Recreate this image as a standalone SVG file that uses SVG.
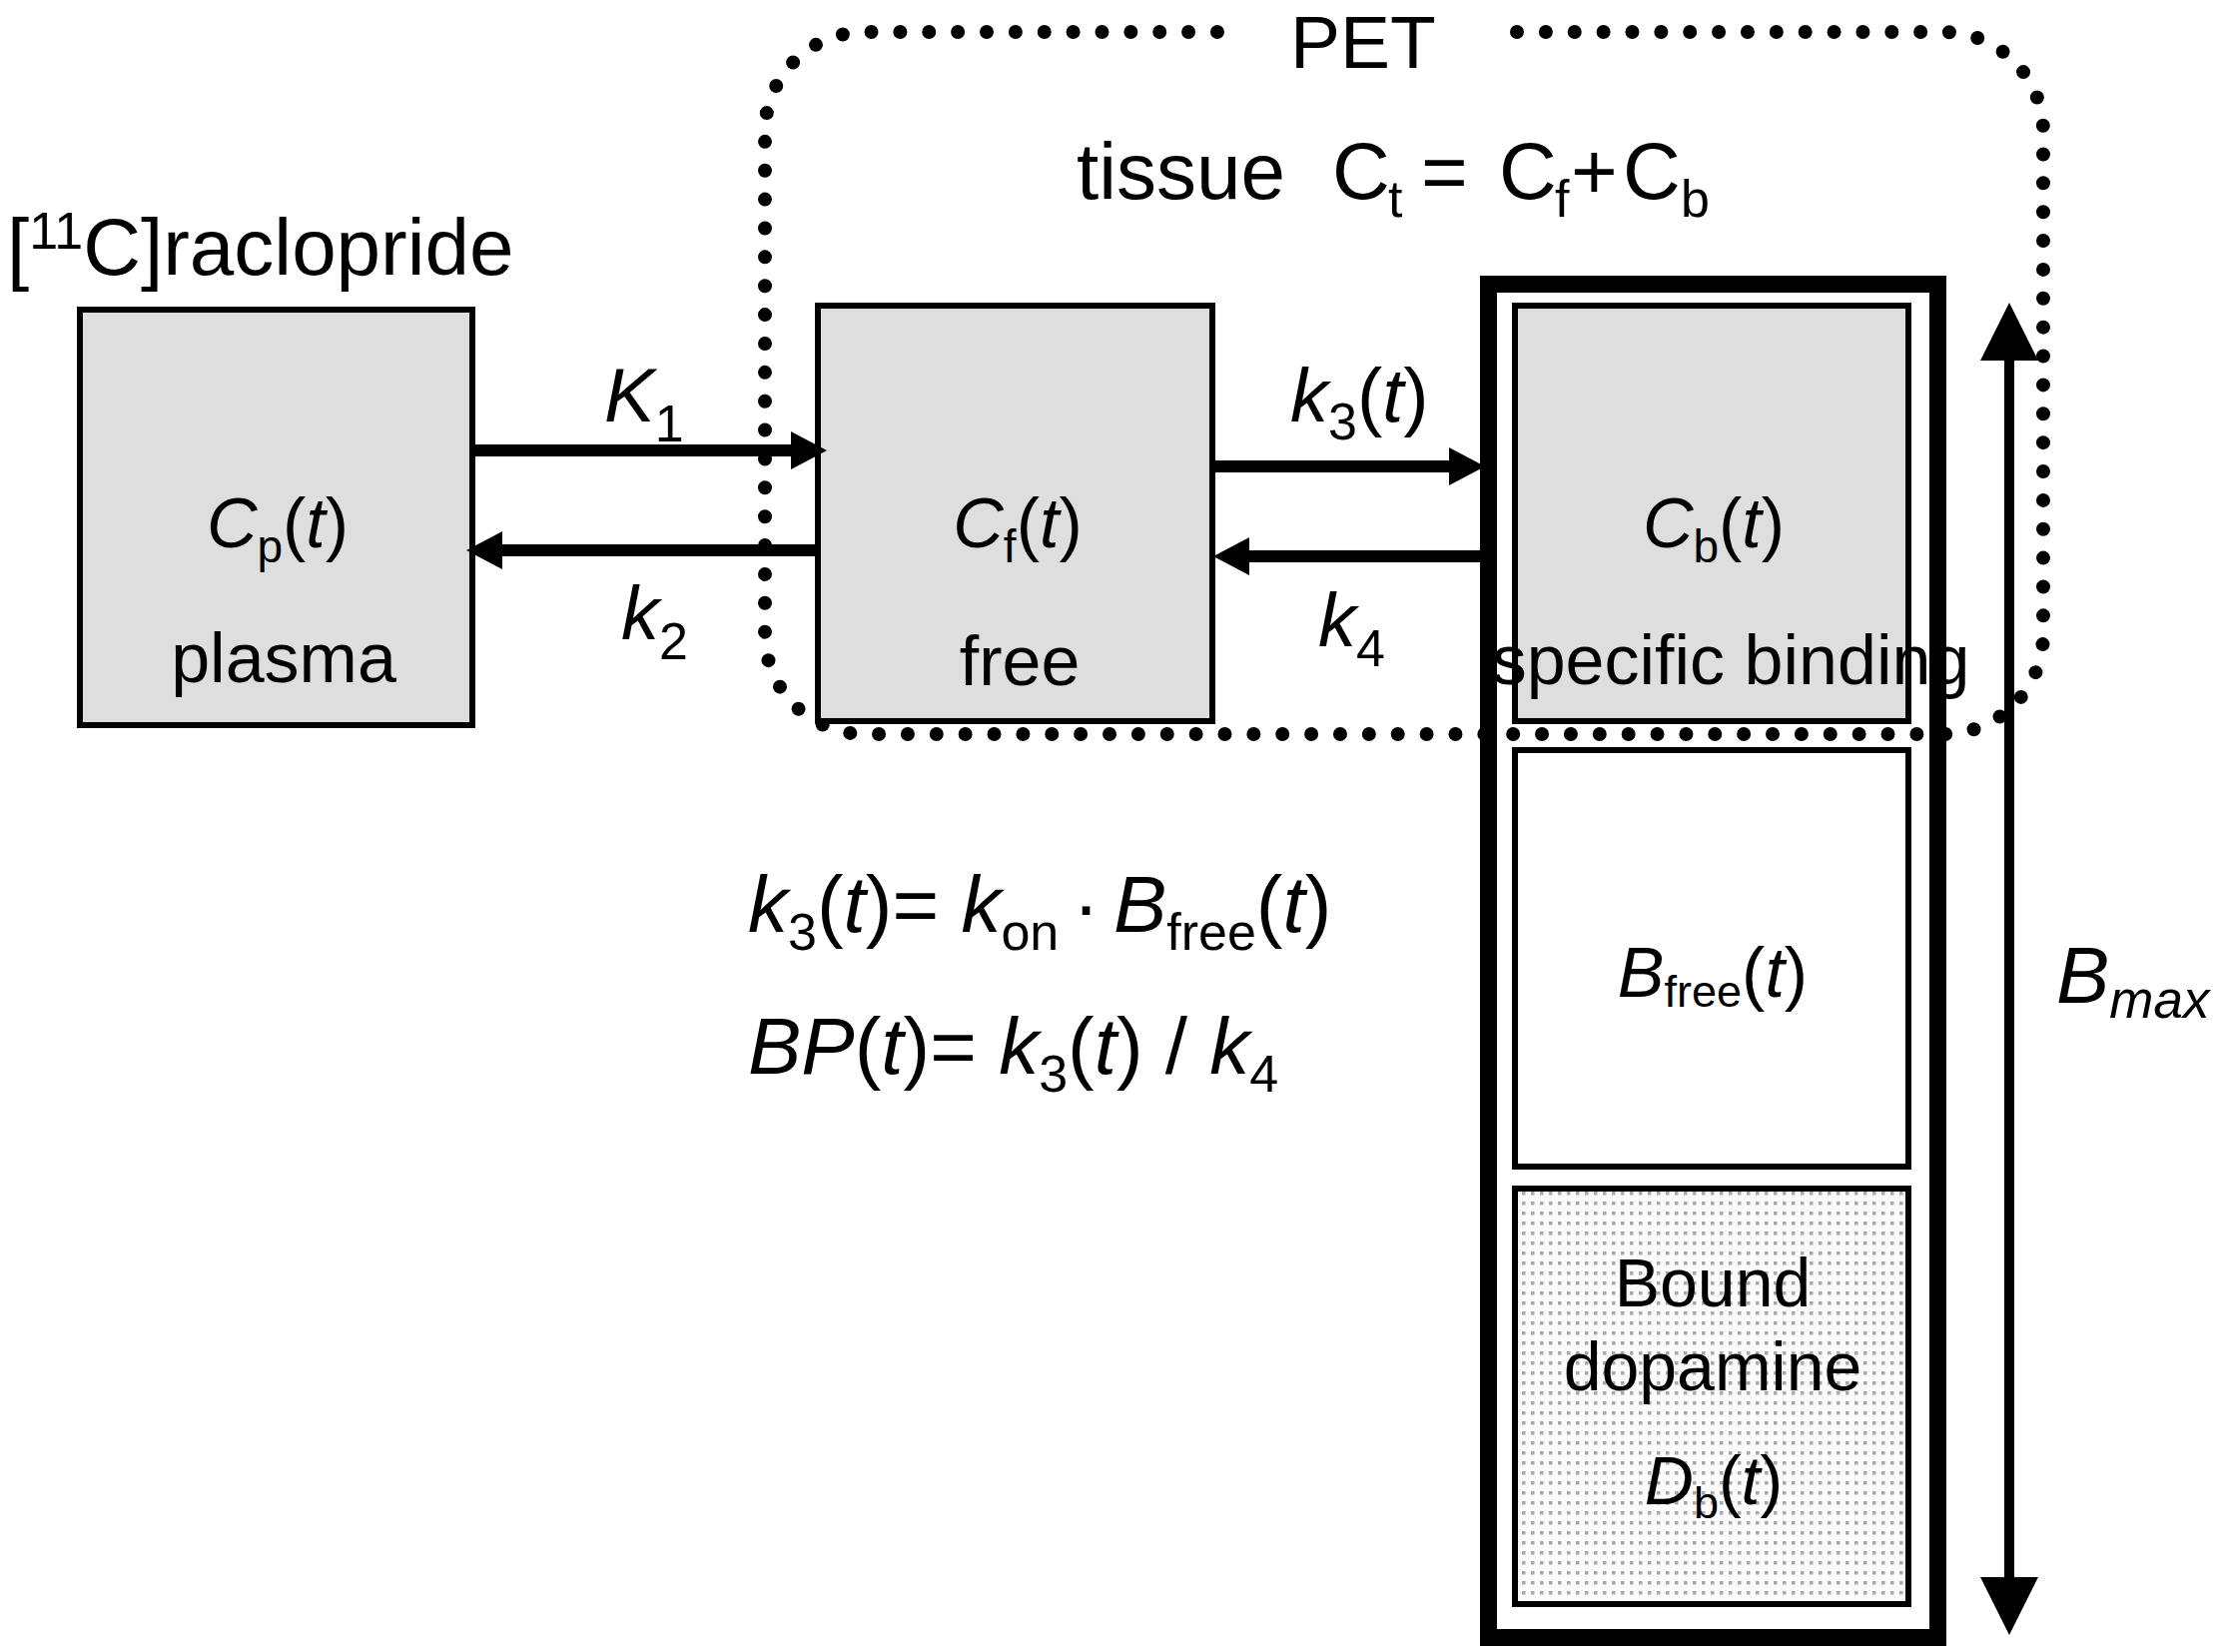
<svg xmlns="http://www.w3.org/2000/svg" width="2217" height="1654" viewBox="0 0 2217 1654">
<style>
text{font-family:"Liberation Sans",Arial,Helvetica,sans-serif;fill:#000}
.box{stroke:#000;stroke-width:6}
.gray{fill:#dedede}
.lbl{font-size:70px}
.top{font-size:80px}
.edge{font-size:76px}
.i{font-style:italic}
.conn{stroke:#000;stroke-width:12;fill:none}
.dots{fill:none;stroke:#000;stroke-width:14;stroke-linecap:round;stroke-dasharray:0 28.87}
</style>
<defs>
<marker id="ah" markerUnits="userSpaceOnUse" markerWidth="38" markerHeight="40" refX="2" refY="19" orient="auto" viewBox="0 0 38 38">
<path d="M0,0 L36,19 L0,38 Z" fill="#000"/>
</marker>
<marker id="ahb" markerUnits="userSpaceOnUse" markerWidth="60" markerHeight="60" refX="2" refY="29" orient="auto-start-reverse" viewBox="0 0 60 58">
<path d="M0,0 L58,29 L0,58 Z" fill="#000"/>
</marker>
<pattern id="stip" patternUnits="userSpaceOnUse" width="9" height="10">
<rect width="9" height="10" fill="#fbfbfb"/>
<rect x="3" y="3" width="3.5" height="3.5" fill="#a8a8a8"/>
</pattern>
</defs>
<rect width="2217" height="1654" fill="#fff"/>

<g id="pet-region">
<path class="dots" d="M1519,32 H1946 A100,100 0 0 1 2046,132 V635 A100,100 0 0 1 1946,735 H866 A100,100 0 0 1 766,635 V132 A100,100 0 0 1 866,32 H1221"/>
<text x="1292" y="68" font-size="75">PET</text>
<text class="top" y="199"><tspan x="1078">tissue</tspan><tspan x="1334">C</tspan><tspan x="1390" y="217" font-size="52">t</tspan><tspan x="1423" y="199">=</tspan><tspan x="1501">C</tspan><tspan x="1557" y="217" font-size="52">f</tspan><tspan x="1573" y="199">+</tspan><tspan x="1625">C</tspan><tspan x="1683" y="217" font-size="52">b</tspan></text>
</g>

<text id="tracer" x="7" y="275" font-size="80">[<tspan font-size="52" dy="-26">11</tspan><tspan dy="26">C]raclopride</tspan></text>

<g id="plasma">
<rect class="box gray" x="80" y="310" width="393" height="416"/>
<text class="lbl" x="278" y="548" text-anchor="middle"><tspan class="i">C</tspan><tspan font-size="46" dy="15">p</tspan><tspan dy="-15">(</tspan><tspan class="i">t</tspan>)</text>
<text class="lbl" x="284" y="683" text-anchor="middle">plasma</text>
</g>

<g id="free">
<rect class="box gray" x="819" y="306" width="395" height="416"/>
<text class="lbl" x="1019" y="548" text-anchor="middle"><tspan class="i">C</tspan><tspan font-size="46" dy="15">f</tspan><tspan dy="-15">(</tspan><tspan class="i">t</tspan>)</text>
<text class="lbl" x="1021" y="686" text-anchor="middle">free</text>
</g>

<g id="receptor-pool">
<rect x="1490.5" y="284.5" width="450" height="1355" fill="none" stroke="#000" stroke-width="17"/>
</g>

<g id="specific-binding">
<rect class="box gray" x="1517" y="306" width="394" height="416"/>
<text class="lbl" x="1716" y="548" text-anchor="middle"><tspan class="i">C</tspan><tspan font-size="46" dy="15">b</tspan><tspan dy="-15">(</tspan><tspan class="i">t</tspan>)</text>
<text class="lbl" x="1733" y="685" text-anchor="middle">specific binding</text>
</g>

<g id="bfree">
<rect class="box" x="1517" y="751" width="394" height="417" fill="#fff"/>
<text class="lbl" x="1715" y="998" text-anchor="middle" font-size="72"><tspan class="i">B</tspan><tspan font-size="45" dy="10">free</tspan><tspan dy="-10">(</tspan><tspan class="i">t</tspan>)</text>
</g>

<g id="bound-dopamine">
<rect class="box" x="1517" y="1190" width="394" height="416" fill="url(#stip)"/>
<text x="1715" y="1308" text-anchor="middle" font-size="68">Bound</text>
<text x="1715" y="1392" text-anchor="middle" font-size="68">dopamine</text>
<text x="1716" y="1506" text-anchor="middle" font-size="68"><tspan class="i">D</tspan><tspan font-size="45" dy="14">b</tspan><tspan dy="-14">(</tspan><tspan class="i">t</tspan>)</text>
</g>

<g id="connectors">
<line class="conn" x1="476" y1="451" x2="794" y2="451" marker-end="url(#ah)"/>
<line class="conn" x1="816" y1="551" x2="501" y2="551" marker-end="url(#ah)"/>
<line class="conn" x1="1217" y1="467" x2="1453" y2="467" marker-end="url(#ah)"/>
<line class="conn" x1="1483" y1="557" x2="1249" y2="557" marker-end="url(#ah)"/>
<line x1="2012" y1="359" x2="2012" y2="1581" stroke="#000" stroke-width="10" marker-start="url(#ahb)" marker-end="url(#ahb)"/>
</g>

<g id="edge-labels">
<text class="edge" x="605" y="422"><tspan class="i">K</tspan><tspan font-size="52" dy="20">1</tspan></text>
<text class="edge" x="622" y="640"><tspan class="i">k</tspan><tspan font-size="52" dy="20">2</tspan></text>
<text class="edge" x="1292" y="422"><tspan class="i">k</tspan><tspan font-size="52" dy="18">3</tspan><tspan dy="-18">(</tspan><tspan class="i">t</tspan>)</text>
<text class="edge" x="1320" y="647"><tspan class="i">k</tspan><tspan font-size="52" dy="20">4</tspan></text>
<text x="2059" y="1004" font-size="80"><tspan class="i">B</tspan><tspan class="i" font-size="53" dy="15">max</tspan></text>
</g>

<g id="equations">
<text class="top" x="749" y="933"><tspan class="i">k</tspan><tspan font-size="52" dy="18">3</tspan><tspan dy="-18">(</tspan><tspan class="i">t</tspan>)= <tspan class="i">k</tspan><tspan font-size="52" dy="18">on</tspan><tspan dy="-18" dx="14">·</tspan><tspan class="i" dx="14">B</tspan><tspan font-size="52" dy="18">free</tspan><tspan dy="-18">(</tspan><tspan class="i">t</tspan>)</text>
<text class="top" x="749" y="1075"><tspan class="i">BP</tspan>(<tspan class="i">t</tspan>)= <tspan class="i">k</tspan><tspan font-size="52" dy="18">3</tspan><tspan dy="-18">(</tspan><tspan class="i">t</tspan>) / <tspan class="i">k</tspan><tspan font-size="52" dy="18">4</tspan></text>
</g>
</svg>
